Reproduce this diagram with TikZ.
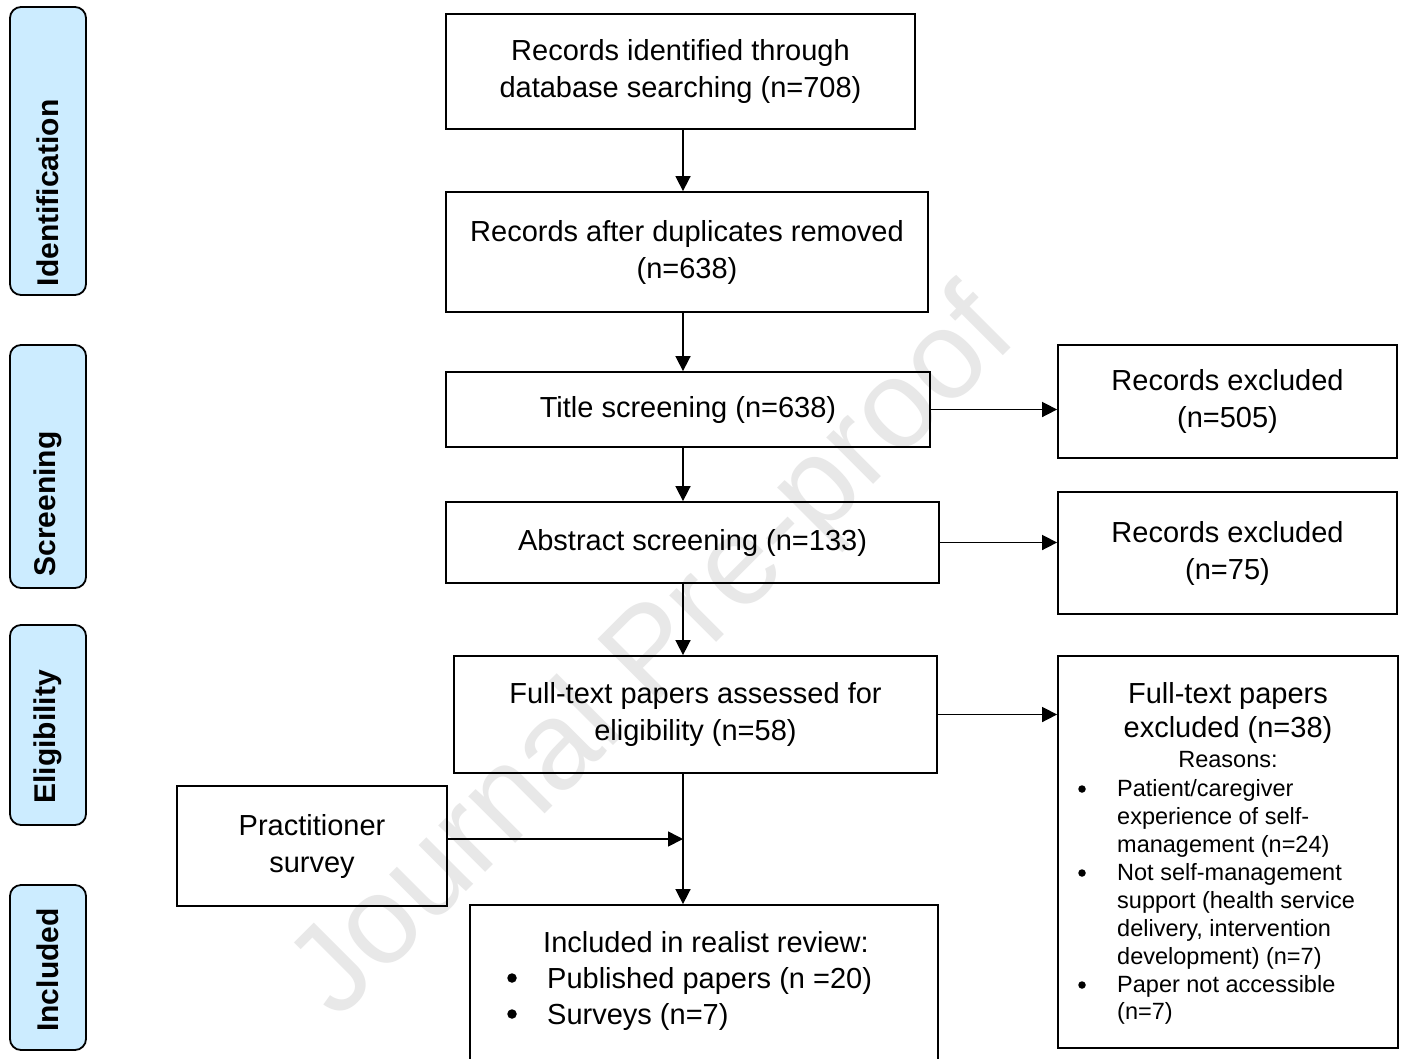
\documentclass[tikz,border=0pt]{standalone}
\usepackage{fontspec}
\setmainfont{Liberation Sans}
\usetikzlibrary{arrows.meta}
\definecolor{phase}{RGB}{204,236,255}
\tikzset{
  mainfs/.style={font=\fontsize{29}{37}\selectfont},
  smallfs/.style={font=\fontsize{23.5}{28}\selectfont},
  flowbox/.style={draw, line width=1.8pt, align=center, inner sep=0pt, mainfs},
  phasebox/.style={draw, line width=1.8pt, fill=phase, rounded corners=11pt,
     minimum width=76pt, inner sep=0pt},
  phasetxt/.style={rotate=90, inner sep=0pt, font=\bfseries\fontsize{30}{35}\selectfont},
  arr/.style={line width=1.6pt, -{Triangle[length=15pt,width=15pt]}},
  txt/.style={inner sep=0pt},
  dotb/.style={circle, fill=black, inner sep=0pt, minimum size=#1},
}
\begin{document}
\begin{tikzpicture}[x=1pt,y=-1pt]
\clip (0,0) rectangle (1405,1058);
\fill[white] (0,0) rectangle (1405,1058);
% watermark
\node[rotate=45, text=black!9, inner sep=0pt, font=\fontsize{125}{125}\selectfont] (wm) at (656,657) {Journal Pre-proof};

% phase labels
\node[phasebox, minimum height=288pt] (pid) at (48,151) {};
\node[phasebox, minimum height=243pt] (psc) at (48,466.5) {};
\node[phasebox, minimum height=200pt] (pel) at (48,725) {};
\node[phasebox, minimum height=165pt] (pin) at (48,967.5) {};
\node[phasetxt] (pidt) at (48,193) {Identification};
\node[phasetxt] (psct) at (48,504) {Screening};
\node[phasetxt] (pelt) at (48,737) {Eligibility};
\node[phasetxt] (pint) at (48,970) {Included};

\coordinate (spine) at (683,0);

% main boxes
\node[flowbox, minimum width=469pt, minimum height=115pt] (n1) at (680.5,71.5) {Records identified through\\database searching (n=708)};
\node[flowbox, minimum width=482pt, minimum height=120pt] (n2) at (687,252) {Records after duplicates removed\\(n=638)};
\node[flowbox, minimum width=484pt, minimum height=75pt] (n3) at (688,409.5) {Title screening (n=638)};
\node[flowbox, minimum width=493pt, minimum height=81pt] (n4) at (692.5,542.5) {Abstract screening (n=133)};
\node[flowbox, minimum width=483pt, minimum height=117pt] (n5) at (695.5,714.5) {Full-text papers assessed for\\eligibility (n=58)};
\node[flowbox, minimum width=270pt, minimum height=120pt] (pr) at (312,846) {Practitioner\\survey};
\node[flowbox, minimum width=468pt, minimum height=180pt] (n6) at (704,995) {};

% exclusion boxes
\node[flowbox, minimum width=339pt, minimum height=113pt] (ex1) at (1227.5,401.5) {Records excluded\\(n=505)};
\node[flowbox, minimum width=339pt, minimum height=122pt] (ex2) at (1227.5,553) {Records excluded\\(n=75)};
\node[flowbox, minimum width=340pt, minimum height=392pt] (ex3) at (1228,852) {};

% text of ex3
\node[txt, mainfs, anchor=base] (e3a) at (1228,703) {Full-text papers};
\node[txt, mainfs, anchor=base] (e3b) at (1228,737) {excluded (n=38)};
\node[txt, smallfs, anchor=base] (e3c) at (1228,767) {Reasons:};
\node[dotb=7.5pt] (ba) at (1082,789) {};
\node[dotb=7.5pt] (bb) at (1082,873) {};
\node[dotb=7.5pt] (bc) at (1082,985) {};
\node[txt, smallfs, anchor=base west] (r1) at (1117,796) {Patient/caregiver};
\node[txt, smallfs, anchor=base west] (r2) at (1117,824) {experience of self-};
\node[txt, smallfs, anchor=base west] (r3) at (1117,852) {management (n=24)};
\node[txt, smallfs, anchor=base west] (r4) at (1117,880) {Not self-management};
\node[txt, smallfs, anchor=base west] (r5) at (1117,908) {support (health service};
\node[txt, smallfs, anchor=base west] (r6) at (1117,936) {delivery, intervention};
\node[txt, smallfs, anchor=base west] (r7) at (1117,964) {development) (n=7)};
\node[txt, smallfs, anchor=base west] (r8) at (1117,992) {Paper not accessible};
\node[txt, smallfs, anchor=base west] (r9) at (1117,1019) {(n=7)};

% text of included box
\node[txt, mainfs, anchor=base] (i0) at (706,952) {Included in realist review:};
\node[dotb=9.5pt] (ib1) at (512,978) {};
\node[dotb=9.5pt] (ib2) at (512,1014) {};
\node[txt, mainfs, anchor=base west] (i1) at (547,988) {Published papers (n =20)};
\node[txt, mainfs, anchor=base west] (i2) at (547,1024) {Surveys (n=7)};

% connectors
\draw[arr] (n1.south -| spine) -- (n2.north -| spine);
\draw[arr] (n2.south -| spine) -- (n3.north -| spine);
\draw[arr] (n3.south -| spine) -- (n4.north -| spine);
\draw[arr] (n4.south -| spine) -- (n5.north -| spine);
\draw[arr] (n5.south -| spine) -- (n6.north -| spine);
\draw[arr] (n3.east) -- (n3.east -| ex1.west);
\draw[arr] (n4.east) -- (n4.east -| ex2.west);
\draw[arr] (n5.east) -- (n5.east -| ex3.west);
\coordinate (join) at ([yshift=7pt]pr.east -| spine);
\draw[arr] ([yshift=7pt]pr.east) -- (join);
\end{tikzpicture}
\end{document}
